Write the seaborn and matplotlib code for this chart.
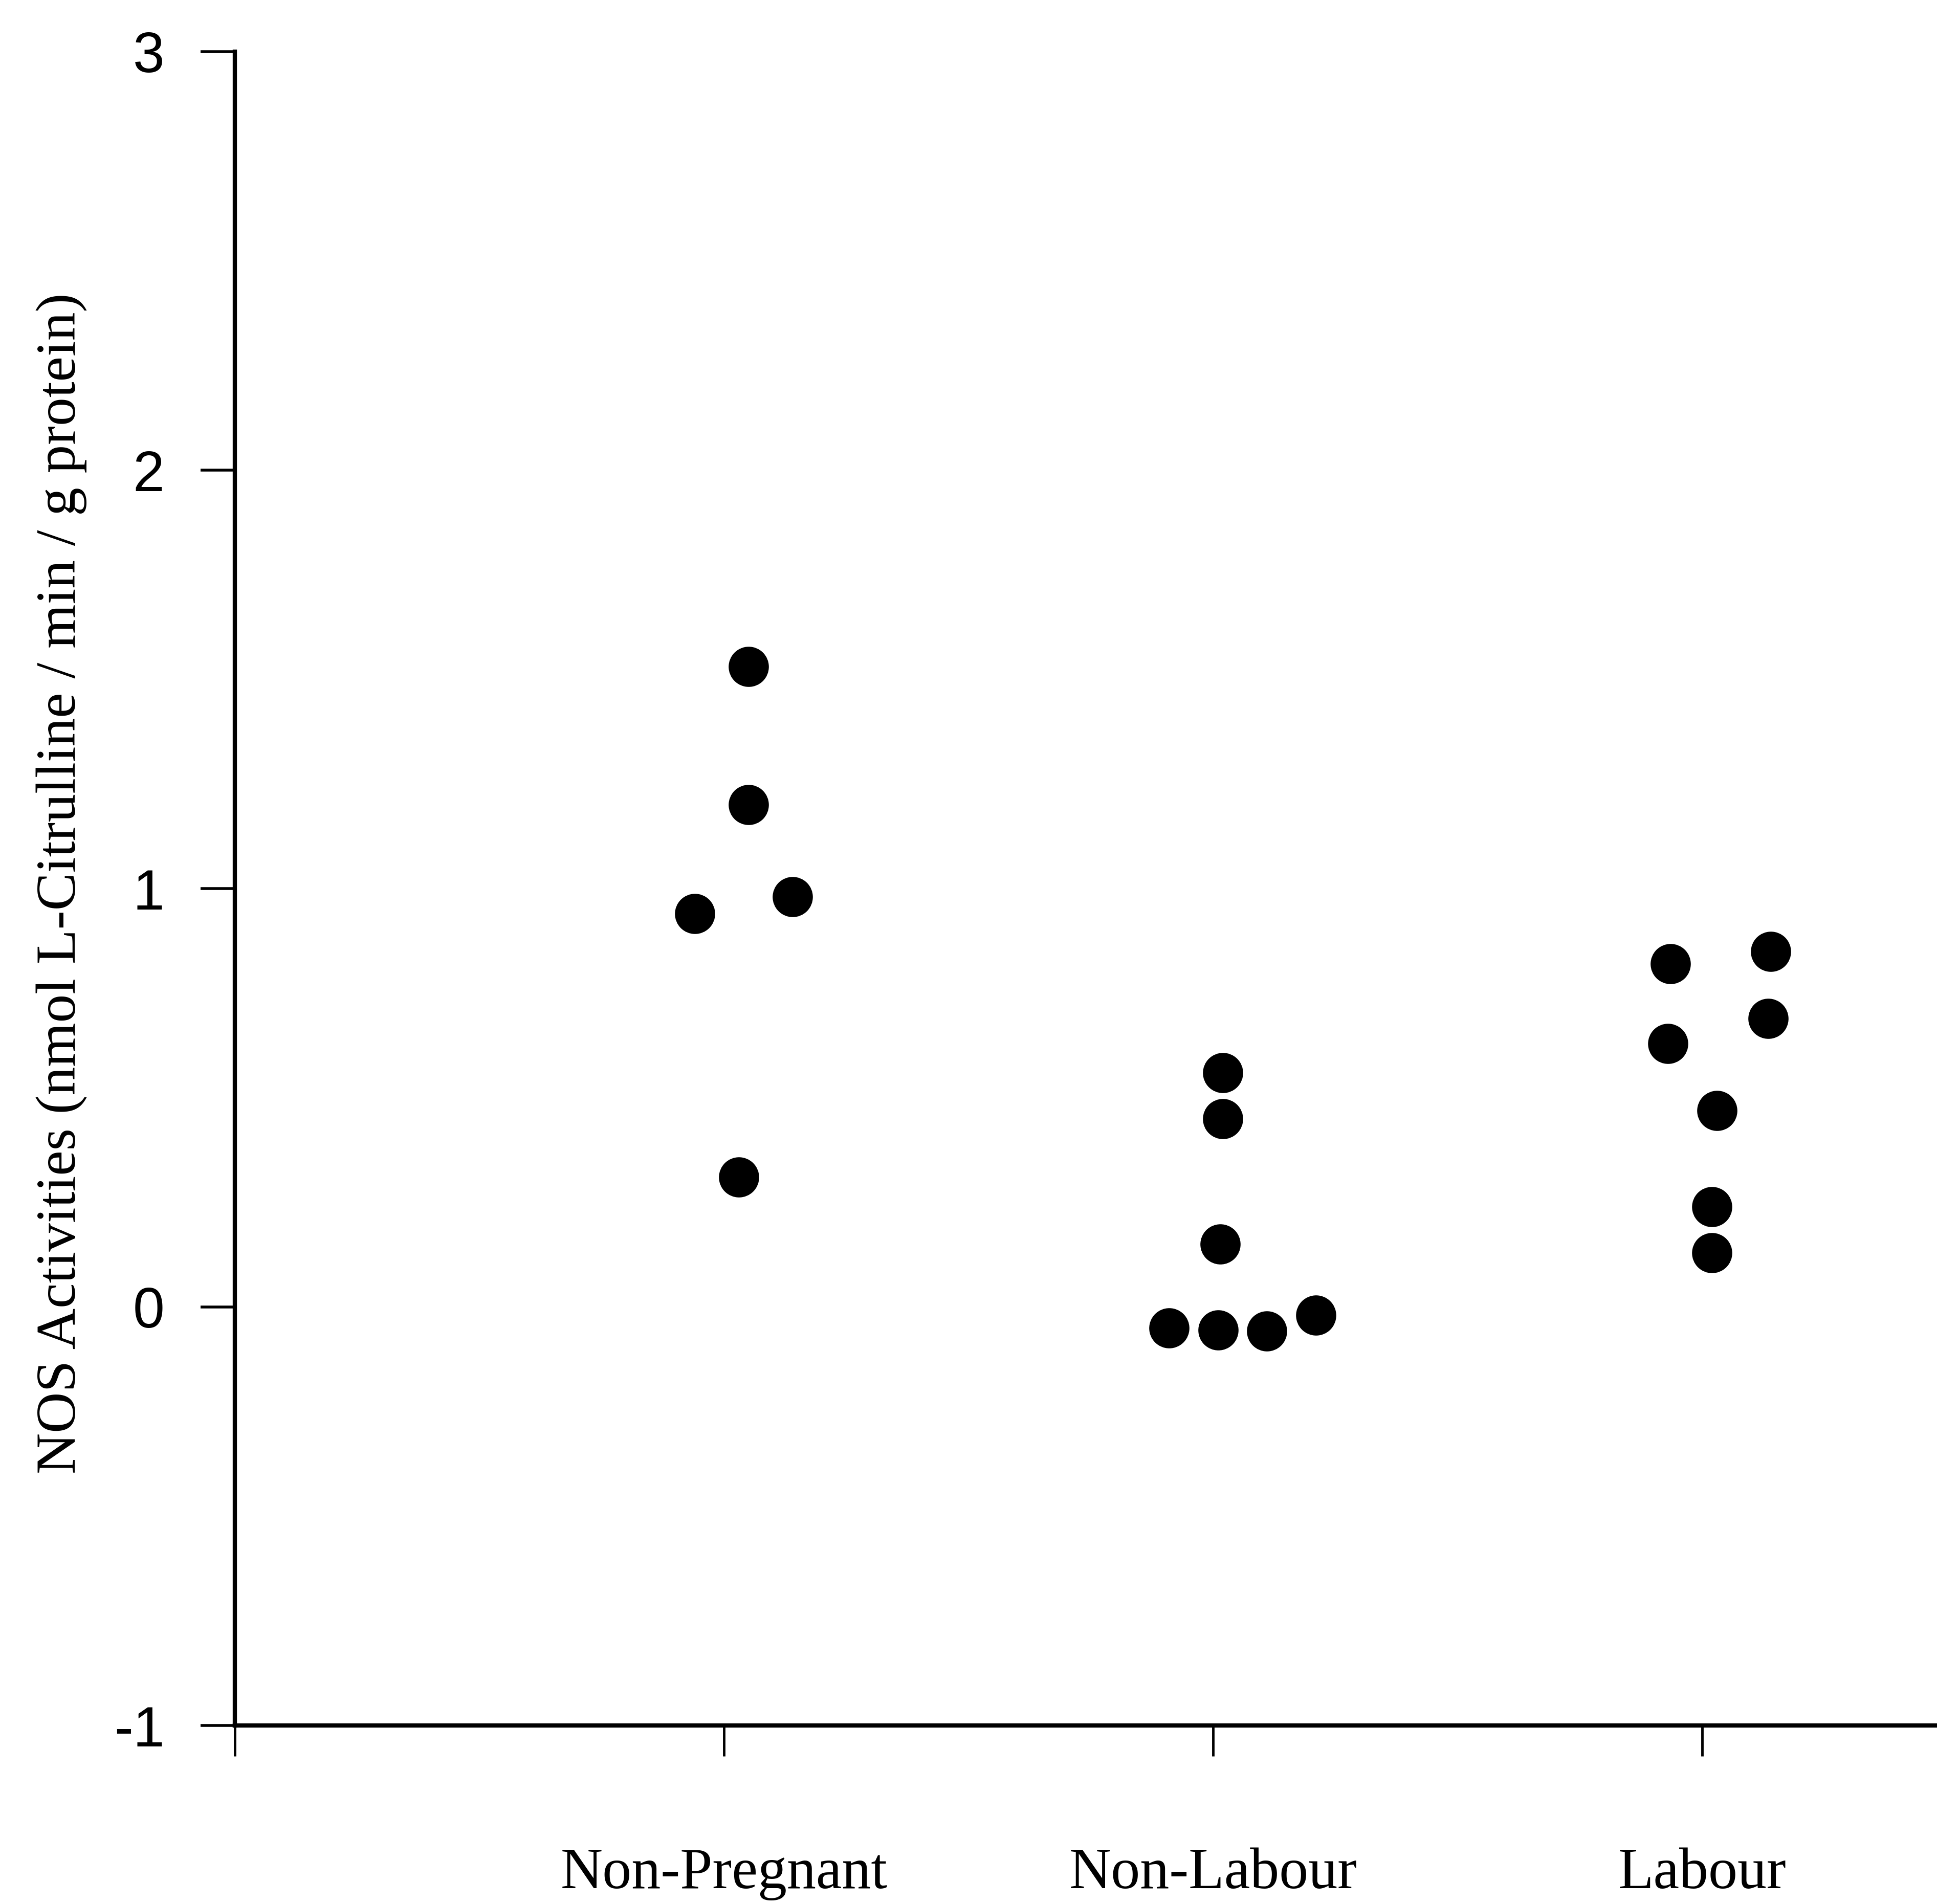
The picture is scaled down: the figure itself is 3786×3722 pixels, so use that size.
import numpy as np
import pandas as pd
import seaborn as sns
import matplotlib.pyplot as plt

# values
groups = ["Non-Pregnant", "Non-Labour", "Labour"]
group_pos = [1, 2, 3]

non_pregnant = [1.53, 1.20, 0.94, 0.98, 0.31]
non_pregnant_dx = [0.05, 0.05, -0.06, 0.14, 0.03]
non_labour = [0.56, 0.45, 0.15, -0.05, -0.055, -0.057, -0.02]
non_labour_dx = [0.02, 0.02, 0.015, -0.09, 0.01, 0.11, 0.21]
labour = [0.82, 0.85, 0.63, 0.69, 0.47, 0.24, 0.13]
labour_dx = [-0.065, 0.14, -0.07, 0.135, 0.03, 0.02, 0.02]

y_ticks = [-1, 0, 1, 2, 3]
ylabel = "NOS Activities (nmol L-Citrulline / min / g protein)"

rows = []
for name, pos, vals, dxs in zip(groups, group_pos,
                                [non_pregnant, non_labour, labour],
                                [non_pregnant_dx, non_labour_dx, labour_dx]):
    for v, d in zip(vals, dxs):
        rows.append({"group": name, "x": pos + d, "nos": v})
df = pd.DataFrame(rows)

sns.set_theme(style="ticks")
plt.rcParams["font.family"] = ["Liberation Sans", "DejaVu Sans"]
plt.rcParams["axes.unicode_minus"] = False
plt.rcParams["text.color"] = "black"
plt.rcParams["axes.labelcolor"] = "black"
plt.rcParams["xtick.color"] = "black"
plt.rcParams["ytick.color"] = "black"

W, H = 3786, 3722
fig = plt.figure(figsize=(W / 100, H / 100), dpi=100)
ax = fig.add_axes([459 / W, 1 - 3373 / H, 1 - 459 / W, (3373 - 101) / H])

sns.scatterplot(data=df, x="x", y="nos", color="black", s=3200, linewidth=0,
                ax=ax, legend=False)

serif = ["Liberation Serif", "DejaVu Serif"]
ax.set_xlim(0, 3.48)
ax.set_ylim(-1, 3)
ax.set_xticks([0] + group_pos)
ax.set_xticklabels([""] + groups, family=serif, fontsize=82, color="black")
ax.set_yticks(y_ticks)
ax.set_yticklabels([str(t) for t in y_ticks], fontsize=80, color="black")
ax.set_xlabel("")
ax.set_ylabel(ylabel, family=serif, fontsize=80, color="black")
ax.yaxis.label.set_va("center")
ax.yaxis.set_label_coords(-0.1016, 0.503)

sns.despine(ax=ax)
for side in ["left", "bottom"]:
    ax.spines[side].set_linewidth(6)
    ax.spines[side].set_color("black")
ax.tick_params(axis="y", direction="out", length=48, width=4, pad=51, colors="black")
ax.tick_params(axis="x", direction="out", length=43, width=3.5, pad=129, colors="black")

fig.savefig("out.png", dpi=100, facecolor="white")
